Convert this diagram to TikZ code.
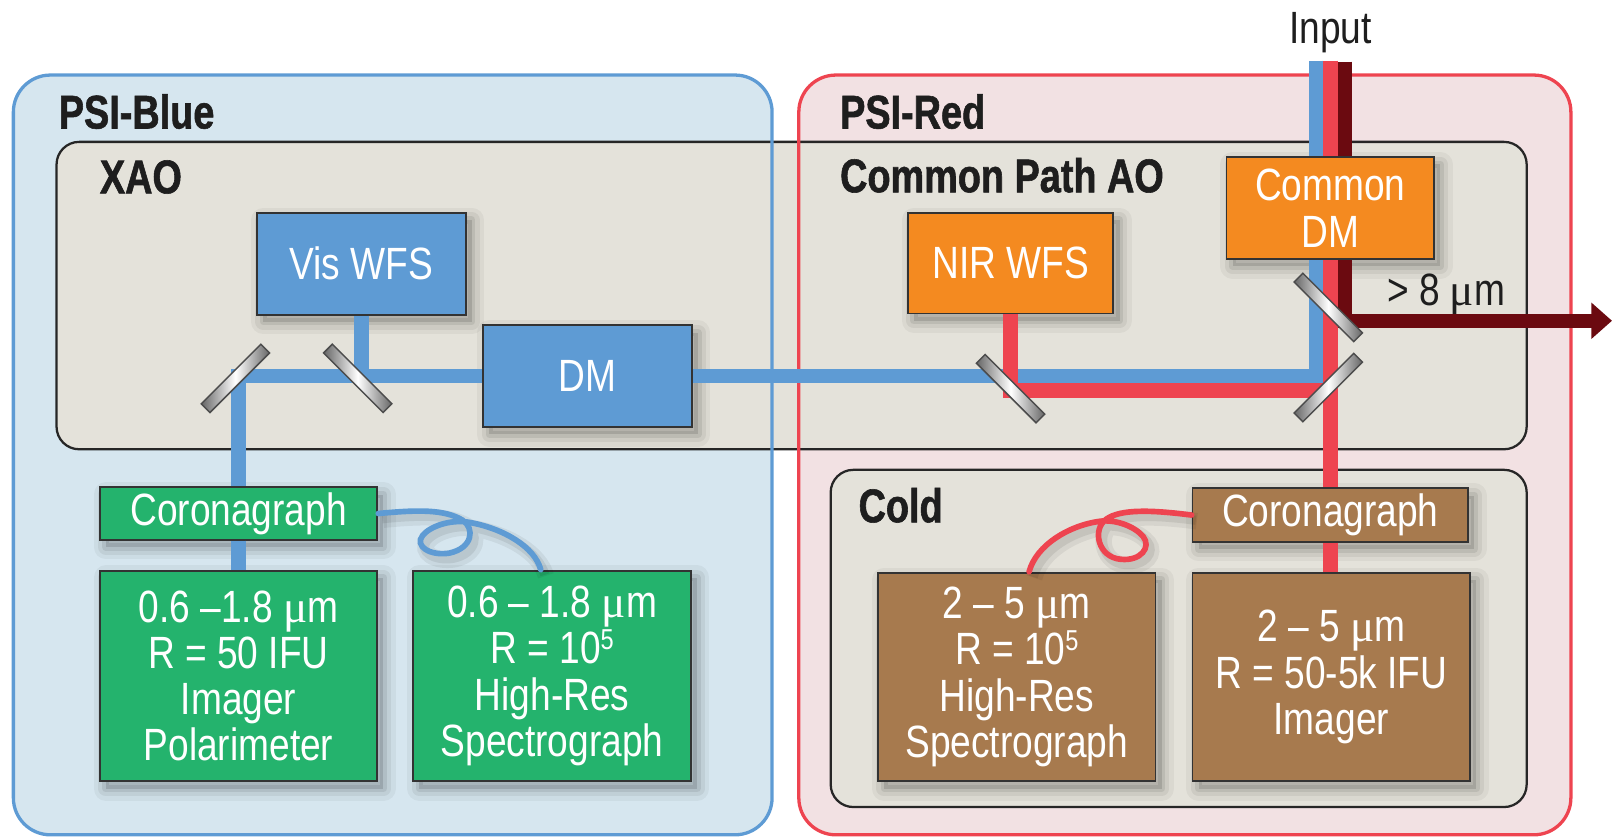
\documentclass[tikz,border=0pt]{standalone}
\usepackage{fontspec}
\setmainfont[FakeStretch=0.82]{Liberation Sans}
\newfontfamily\lblfont[FakeStretch=0.80,FakeBold=1.2]{Liberation Sans Bold}
\newfontfamily\mufont{Liberation Serif}
\usetikzlibrary{arrows.meta}
\newcommand{\um}{{\mufont μ}m}
\newcommand{\tenfive}{10\raisebox{14pt}{\fontsize{28}{28}\selectfont 5}}

\definecolor{bluebox}{HTML}{5E9BD4}
\definecolor{bluebeam}{HTML}{5E9BD4}
\definecolor{orangebox}{HTML}{F48A20}
\definecolor{greenbox}{HTML}{24B36D}
\definecolor{brownbox}{HTML}{A77A4E}
\definecolor{redbeam}{HTML}{EE4450}
\definecolor{darkredbeam}{HTML}{6B0A10}
\definecolor{psibluefill}{HTML}{D6E6EF}
\definecolor{psibluestroke}{HTML}{5E9BD4}
\definecolor{psiredfill}{HTML}{F2E1E3}
\definecolor{psiredstroke}{HTML}{EE4450}
\definecolor{grayfill}{HTML}{E4E2DA}
\definecolor{textdark}{HTML}{1E1E1E}

\begin{document}
\begin{tikzpicture}[x=1pt,y=-1pt,line join=miter,
  lbl/.style={text=textdark,font=\lblfont\fontsize{46}{46}\selectfont,anchor=base west,inner sep=0pt},
  plain/.style={text=textdark,font=\fontsize{44}{44}\selectfont,inner sep=0pt},
  softshadow/.style={
    preaction={draw=black,opacity=0.045,line width=24pt,line join=round,transform canvas={shift={(6pt,-7pt)}}},
    preaction={draw=black,opacity=0.06,line width=15pt,line join=round,transform canvas={shift={(6pt,-7pt)}}},
    preaction={draw=black,opacity=0.08,line width=7pt,line join=round,transform canvas={shift={(6pt,-7pt)}}},
    preaction={fill=black,opacity=0.12,transform canvas={shift={(6pt,-7pt)}}}},
  comp/.style={draw=black!80,line width=1.8pt,text=white,align=center,inner sep=0pt,
    font=\fontsize{44}{45}\selectfont,softshadow},
  beam/.style={line width=14pt},
  mirror/.style={draw=black!70,line width=1.4pt,minimum width=82pt,minimum height=12pt,inner sep=0pt,
    left color=black!60,right color=black!60,middle color=white},
  fiber/.style={line width=5.5pt,line cap=round,
    preaction={draw=black,opacity=0.06,line width=16pt,transform canvas={shift={(5pt,-6pt)}}},
    preaction={draw=black,opacity=0.08,line width=9pt,transform canvas={shift={(4pt,-5pt)}}}},
  panel/.style={fill=grayfill,draw=black!85,line width=2.2pt,rounded corners=22pt},
]
\useasboundingbox (0,0) rectangle (1568,815);

% containers
\fill[psibluefill,rounded corners=36pt] (13,73) rectangle (751,812);
\fill[psiredfill,rounded corners=36pt] (777,73) rectangle (1528,812);
\draw[panel] (55,138) rectangle (1485,437);
\draw[psibluestroke,line width=3.2pt,rounded corners=36pt] (13,73) rectangle (751,812);
\draw[psiredstroke,line width=3.2pt,rounded corners=36pt] (777,73) rectangle (1528,812);
\draw[panel] (808,457) rectangle (1485,785);

% labels
\node[lbl] (lblblue) at (57,125) {PSI-Blue};
\node[lbl] (lblred) at (817,125) {PSI-Red};
\node[lbl] (lblxao) at (97,188) {XAO};
\node[lbl] (lblcpao) at (817,187) {Common Path AO};
\node[lbl] (lblcold) at (835,508) {Cold};
\node[plain,anchor=base] (input) at (1294,42) {Input};
\node[plain,anchor=base west] (gt8) at (1349,297) {> 8 \um};

% components
\node[comp,fill=bluebox,minimum width=203pt,minimum height=99pt] (viswfs) at (351.5,256.5) {Vis WFS};
\node[comp,fill=bluebox,minimum width=203pt,minimum height=99pt] (dm) at (571.5,366) {DM};
\node[comp,fill=orangebox,minimum width=200pt,minimum height=98pt] (nirwfs) at (983,256) {NIR WFS};
\node[comp,fill=orangebox,minimum width=202pt,minimum height=99pt] (commondm) at (1294,202.5) {Common\\DM};
\node[comp,fill=greenbox,minimum width=270pt,minimum height=51pt] (corB) at (232,499.5) {Coronagraph};
\node[comp,fill=greenbox,minimum width=270pt,minimum height=205pt] (imagerB) at (232,657.5)
  {0.6 –1.8 \um\\R = 50 IFU\\Imager\\Polarimeter};
\node[comp,fill=greenbox,minimum width=270pt,minimum height=205pt] (specB) at (537,657.5)
  {0.6 – 1.8 \um\\R = \tenfive\\High-Res\\Spectrograph};
\node[comp,fill=brownbox,minimum width=268pt,minimum height=52pt] (corR) at (1294,501) {Coronagraph};
\node[comp,fill=brownbox,minimum width=270pt,minimum height=203pt] (specR) at (989,658.5)
  {2 – 5 \um\\R = \tenfive\\High-Res\\Spectrograph};
\node[comp,fill=brownbox,minimum width=270pt,minimum height=203pt] (imagerR) at (1295,658.5)
  {2 – 5 \um\\R = 50-5k IFU\\Imager};

% beams
\coordinate (inB) at (1280,59);
\coordinate (inR) at (1294,59);
\coordinate (inD) at (1308,60);
\coordinate (outD) at (1568,312);
\coordinate (redjoin) at (1294,380);
\draw[beam,bluebeam] (inB) -- (inB |- commondm.north);
\draw[beam,redbeam] (inR) -- (inR |- commondm.north);
\draw[beam,darkredbeam] (inD) -- (inD |- commondm.north);
\draw[beam,bluebeam] (inB |- commondm.south) |- (dm.east);
\draw[beam,bluebeam] (dm.west) -| (corB.north);
\draw[beam,bluebeam] (corB.south) -- (imagerB.north);
\draw[beam,bluebeam] (viswfs.south) -- (viswfs.south |- dm.west);
\draw[beam,redbeam] (nirwfs.south) |- (redjoin);
\draw[beam,redbeam] (inR |- commondm.south) -- (corR.north);
\draw[beam,redbeam] (corR.south) -- (corR.south |- imagerR.north);
\draw[beam,darkredbeam,-{Triangle[length=20pt,width=34pt]}] (inD |- commondm.south) |- (outD);

% mirrors
\node[mirror,rotate=45] (m1) at (229,368) {};
\node[mirror,rotate=-45] (m2) at (348,368) {};
\node[mirror,rotate=-45] (m3) at (983,378) {};
\node[mirror,rotate=-45] (m4) at (1292,299) {};
\node[mirror,rotate=45] (m5) at (1292,377) {};

% fibers
\draw[fiber,bluebeam] (corB.east) .. controls (405,496) and (432,495) .. (450,506)
  .. controls (462,514) and (460,533) .. (437,538)
  .. controls (418,541) and (403,531) .. (411,521)
  .. controls (418,512) and (438,505) .. (456,508)
  .. controls (490,514) and (520,532) .. ([xshift=-11pt]specB.north);
\draw[fiber,redbeam] (corR.west) .. controls (1120,496) and (1090,495) .. (1076,505)
  .. controls (1062,515) and (1068,542) .. (1090,544)
  .. controls (1110,546) and (1120,532) .. (1112,522)
  .. controls (1104,512) and (1085,505) .. (1070,507)
  .. controls (1040,511) and (1008,530) .. ([xshift=12pt]specR.north);
\end{tikzpicture}
\end{document}
